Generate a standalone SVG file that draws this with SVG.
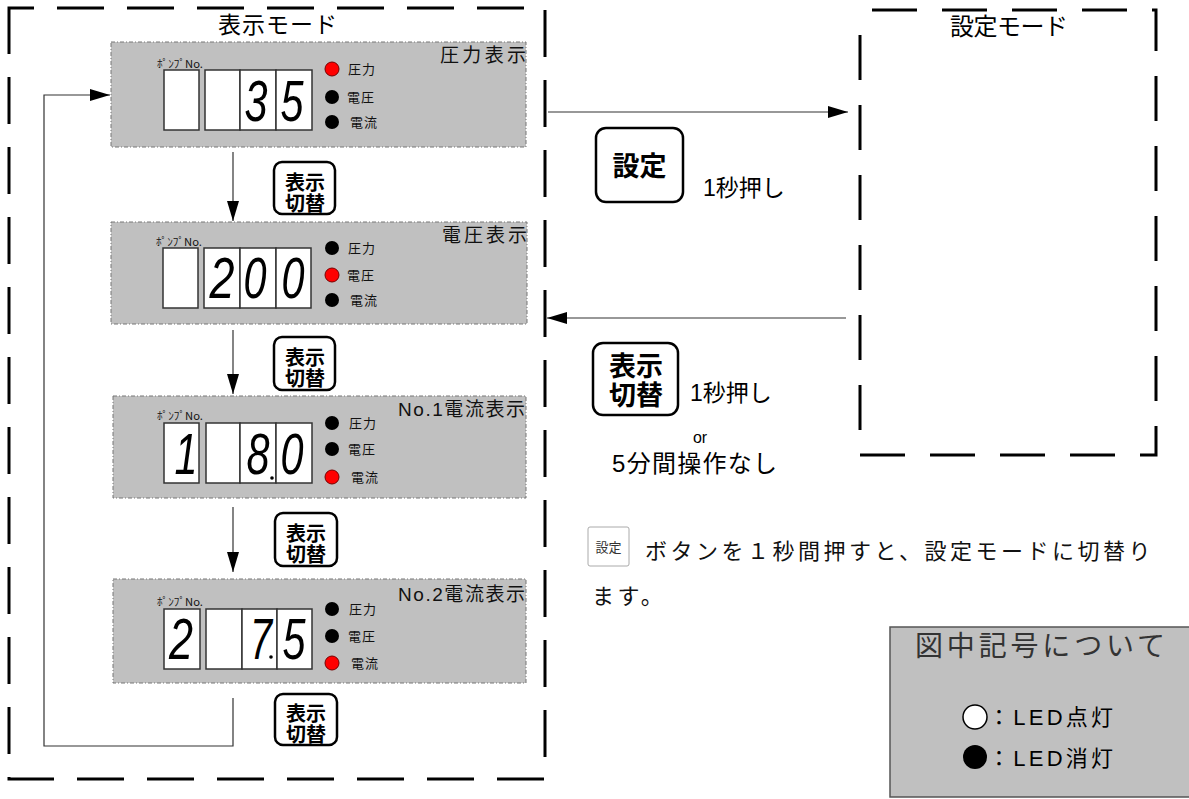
<svg xmlns="http://www.w3.org/2000/svg" width="1189" height="799" viewBox="0 0 1189 799">
<style>
.t{font-family:"Liberation Sans","Noto Sans CJK JP",sans-serif;fill:#000}
.j{font-family:"Noto Sans CJK JP",sans-serif}
.panel{fill:#c0c0c0;stroke:#777;stroke-width:1;stroke-dasharray:4 2 1 2}
.dg{fill:#fff;stroke:#333;stroke-width:1.5}
.on{fill:#ff0000;stroke:#700;stroke-width:1}
.off{fill:#000}
.lab{font-size:13px;fill:#111;letter-spacing:1px}
.pn{font-size:11px;fill:#111}
.ttl{font-size:19px;fill:#111}
.num{font-family:"Liberation Sans",sans-serif;font-style:italic;font-size:57px;text-anchor:middle;fill:#000}
.btn{fill:#fff;stroke:#000;stroke-width:2.5}
.bt{font-weight:bold;text-anchor:middle}
.mode{fill:none;stroke:#000;stroke-width:3}
.conn{fill:none;stroke:#333;stroke-width:1.2}
</style>
<defs>
<marker id="ah" markerUnits="userSpaceOnUse" markerWidth="20" markerHeight="12" refX="20" refY="6" orient="auto"><path d="M0,0 L20,6 L0,12 Z" fill="#000"/></marker>
</defs>

<g id="display-mode">
<rect class="mode" x="9" y="8" width="536" height="771" stroke-dasharray="47 23" stroke-dashoffset="22"/>
<text class="j" x="218" y="33" font-size="23" textLength="119">表示モード</text>
</g>

<g id="setting-mode">
<rect class="mode" x="860" y="10" width="296" height="445" stroke-dasharray="45 25" stroke-dashoffset="58"/>
<text class="j" x="950" y="35" font-size="24" textLength="118">設定モード</text>
</g>

<g id="panel-pressure">
<rect class="panel" x="111" y="42" width="415" height="105"/>
<text class="j pn" x="157" y="68" textLength="46" lengthAdjust="spacingAndGlyphs">ﾎﾟﾝﾌﾟNo.</text>
<rect class="dg" x="164" y="70" width="35" height="60"/>
<rect class="dg" x="205" y="70" width="35" height="60"/>
<rect class="dg" x="240" y="70" width="36" height="60"/>
<rect class="dg" x="276" y="70" width="36" height="60"/>
<text class="num" x="256" y="121" textLength="23" lengthAdjust="spacingAndGlyphs">3</text>
<text class="num" x="292" y="121" textLength="23" lengthAdjust="spacingAndGlyphs">5</text>
<circle class="on" cx="332" cy="69" r="7"/>
<circle class="off" cx="332" cy="97" r="7"/>
<circle class="off" cx="332" cy="122" r="7"/>
<text class="j lab" x="348" y="74">圧力</text>
<text class="j lab" x="347" y="102">電圧</text>
<text class="j lab" x="350" y="127">電流</text>
<text class="j ttl" x="440" y="62" textLength="86">圧力表示</text>
</g>

<g id="panel-voltage">
<rect class="panel" x="111" y="222" width="416" height="102"/>
<text class="j pn" x="156" y="246" textLength="46" lengthAdjust="spacingAndGlyphs">ﾎﾟﾝﾌﾟNo.</text>
<rect class="dg" x="163" y="248" width="35" height="60"/>
<rect class="dg" x="204" y="248" width="36" height="60"/>
<rect class="dg" x="240" y="248" width="36" height="60"/>
<rect class="dg" x="276" y="248" width="35" height="60"/>
<text class="num" x="222" y="298" textLength="25" lengthAdjust="spacingAndGlyphs">2</text>
<text class="num" x="255" y="298" textLength="23" lengthAdjust="spacingAndGlyphs">0</text>
<text class="num" x="293" y="298" textLength="23" lengthAdjust="spacingAndGlyphs">0</text>
<circle class="off" cx="332" cy="248" r="7"/>
<circle class="on" cx="332" cy="275" r="7"/>
<circle class="off" cx="332" cy="300" r="7"/>
<text class="j lab" x="348" y="253">圧力</text>
<text class="j lab" x="347" y="280">電圧</text>
<text class="j lab" x="350" y="305">電流</text>
<text class="j ttl" x="442" y="242" textLength="85">電圧表示</text>
</g>

<g id="panel-current1">
<rect class="panel" x="113" y="396" width="413" height="102"/>
<text class="j pn" x="157" y="420" textLength="46" lengthAdjust="spacingAndGlyphs">ﾎﾟﾝﾌﾟNo.</text>
<rect class="dg" x="164" y="423" width="35" height="60"/>
<rect class="dg" x="206" y="423" width="34" height="60"/>
<rect class="dg" x="240" y="423" width="36" height="60"/>
<rect class="dg" x="276" y="423" width="36" height="60"/>
<text class="num" x="186" y="474" textLength="23" lengthAdjust="spacingAndGlyphs">1</text>
<text class="num" x="258" y="474" textLength="23" lengthAdjust="spacingAndGlyphs">8</text>
<circle cx="272" cy="478" r="1.8" fill="#000"/>
<text class="num" x="292" y="474" textLength="23" lengthAdjust="spacingAndGlyphs">0</text>
<circle class="off" cx="332" cy="423" r="7"/>
<circle class="off" cx="332" cy="449" r="7"/>
<circle class="on" cx="332" cy="477" r="7"/>
<text class="j lab" x="349" y="428">圧力</text>
<text class="j lab" x="348" y="454">電圧</text>
<text class="j lab" x="351" y="482">電流</text>
<text class="t ttl" x="398" y="416" textLength="127">No.1電流表示</text>
</g>

<g id="panel-current2">
<rect class="panel" x="113" y="579" width="413" height="104"/>
<text class="j pn" x="157" y="606" textLength="46" lengthAdjust="spacingAndGlyphs">ﾎﾟﾝﾌﾟNo.</text>
<rect class="dg" x="164" y="609" width="36" height="60"/>
<rect class="dg" x="206" y="609" width="36" height="60"/>
<rect class="dg" x="242" y="609" width="35" height="60"/>
<rect class="dg" x="277" y="609" width="35" height="60"/>
<text class="num" x="181" y="659" textLength="24" lengthAdjust="spacingAndGlyphs">2</text>
<text class="num" x="261" y="659" textLength="22" lengthAdjust="spacingAndGlyphs">7</text>
<circle cx="271" cy="657" r="1.8" fill="#000"/>
<text class="num" x="294" y="659" textLength="23" lengthAdjust="spacingAndGlyphs">5</text>
<circle class="off" cx="332" cy="609" r="7"/>
<circle class="off" cx="332" cy="636" r="7"/>
<circle class="on" cx="332" cy="663" r="7"/>
<text class="j lab" x="349" y="614">圧力</text>
<text class="j lab" x="348" y="641">電圧</text>
<text class="j lab" x="351" y="668">電流</text>
<text class="t ttl" x="398" y="601" textLength="127">No.2電流表示</text>
</g>

<g id="btn-switch-1">
<rect class="btn" x="274" y="162" width="61" height="52" rx="8"/>
<text class="j bt" font-size="20"><tspan x="305" y="190">表示</tspan><tspan x="305" y="211">切替</tspan></text>
</g>
<g id="btn-switch-2">
<rect class="btn" x="274" y="337" width="61" height="53" rx="8"/>
<text class="j bt" font-size="20"><tspan x="305" y="365">表示</tspan><tspan x="305" y="386">切替</tspan></text>
</g>
<g id="btn-switch-3">
<rect class="btn" x="275" y="513" width="62" height="53" rx="8"/>
<text class="j bt" font-size="20"><tspan x="306" y="541">表示</tspan><tspan x="306" y="562">切替</tspan></text>
</g>
<g id="btn-switch-4">
<rect class="btn" x="275" y="694" width="62" height="51" rx="8"/>
<text class="j bt" font-size="20"><tspan x="306" y="721">表示</tspan><tspan x="306" y="742">切替</tspan></text>
</g>

<g id="btn-setting">
<rect class="btn" x="596" y="128" width="87" height="74" rx="10"/>
<text class="j bt" x="639.5" y="176" font-size="27">設定</text>
<text class="t" x="703" y="196" font-size="23">1秒押し</text>
</g>

<g id="btn-switch-return">
<rect class="btn" x="593" y="343" width="85" height="72" rx="10"/>
<text class="j bt" font-size="27"><tspan x="636" y="376">表示</tspan><tspan x="636" y="405">切替</tspan></text>
<text class="t" x="690" y="401" font-size="23">1秒押し</text>
<text class="t" x="700" y="443" font-size="16" text-anchor="middle">or</text>
<text class="t" x="612" y="472" font-size="24" textLength="165">5分間操作なし</text>
</g>

<g id="connectors">
<path class="conn" d="M233,152 V221" marker-end="url(#ah)"/>
<path class="conn" d="M233,330 V394" marker-end="url(#ah)"/>
<path class="conn" d="M233,507 V572" marker-end="url(#ah)"/>
<path class="conn" d="M233,698 V746 H44 V95 H110" marker-end="url(#ah)"/>
<path class="conn" d="M548,112 H848" marker-end="url(#ah)"/>
<path class="conn" d="M846,318 H547" marker-end="url(#ah)"/>
</g>

<g id="description">
<rect x="588" y="527" width="41" height="39" rx="2" fill="#fff" stroke="#aaa" stroke-width="1"/>
<text class="j" x="608.5" y="552" font-size="13" text-anchor="middle" fill="#333">設定</text>
<text class="j" x="645" y="559" font-size="22" letter-spacing="3.5" fill="#111">ボタンを１秒間押すと、設定モードに切替り</text>
<text class="j" x="592" y="604" font-size="22" letter-spacing="3.5" fill="#111">ます。</text>
</g>

<g id="legend">
<rect x="890" y="627" width="305" height="170" fill="#c0c0c0" stroke="#555" stroke-width="1.5"/>
<text class="j" x="915" y="656" font-size="28" textLength="250" fill="#333">図中記号について</text>
<circle cx="975" cy="717" r="12" fill="#fff" stroke="#000" stroke-width="1.5"/>
<circle cx="975" cy="757" r="12" fill="#000"/>
<text class="t" x="988" y="725" font-size="22" textLength="125" fill="#333">：LED点灯</text>
<text class="t" x="988" y="766" font-size="22" textLength="125" fill="#333">：LED消灯</text>
</g>
</svg>
